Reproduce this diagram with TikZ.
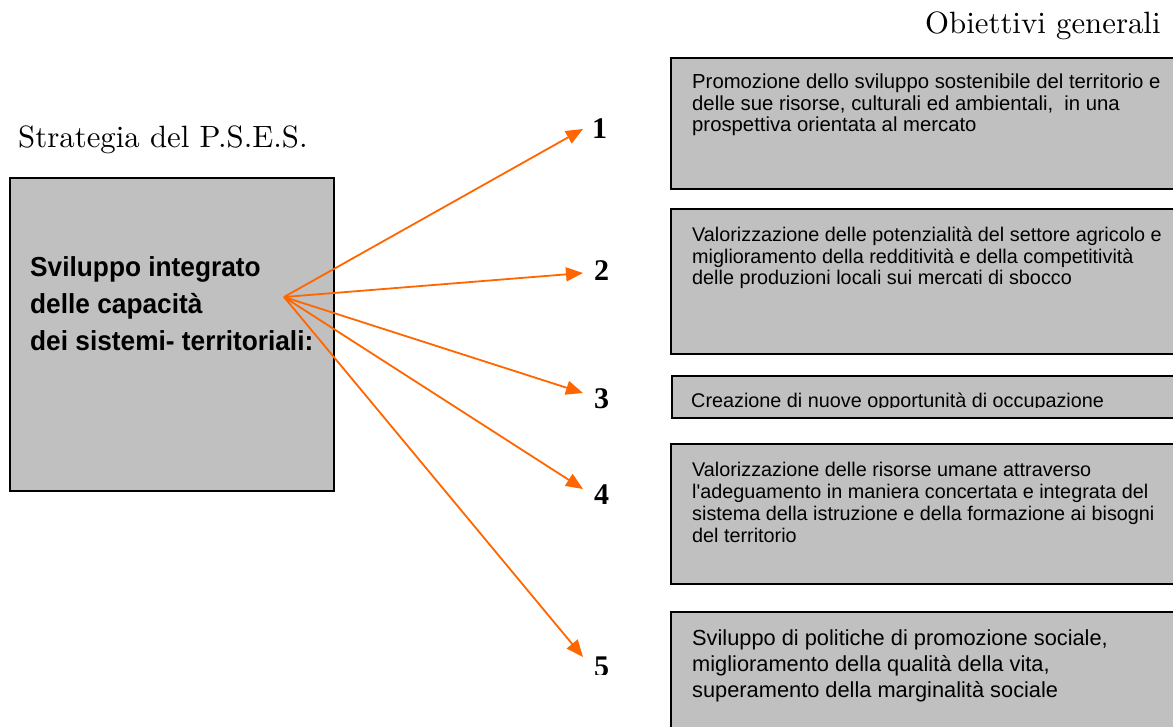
\documentclass[tikz,border=0pt]{standalone}
\usepackage{fontspec}
\newfontfamily\boxfont{Liberation Sans}
\newfontfamily\boxfontn[FakeStretch=0.955]{Liberation Sans}
\newfontfamily\numfont{Liberation Serif}
\newfontfamily\lmten{lmroman10-regular.otf}
\usetikzlibrary{arrows.meta}
\definecolor{boxgray}{RGB}{192,192,192}
\definecolor{arroworange}{RGB}{255,102,0}
\begin{document}
\begin{tikzpicture}[x=1pt,y=-1pt,
  box/.style={draw=black, line width=1.6pt, fill=boxgray, anchor=north west, inner sep=0pt},
  btxt/.style={anchor=base west, inner sep=0pt, font=\boxfont\fontsize{19.8}{22}\selectfont},
  btxtb/.style={anchor=base west, inner sep=0pt, font=\boxfont\fontsize{20.3}{22}\selectfont},
  bigtxt/.style={anchor=base west, inner sep=0pt, font=\boxfont\fontsize{21.8}{26}\selectfont},
  lefttxt/.style={anchor=base west, inner sep=0pt, font=\boxfontn\bfseries\fontsize{27.5}{30}\selectfont},
  head/.style={anchor=base west, inner sep=0pt, font=\lmten\fontsize{30.8}{34}\selectfont},
  num/.style={anchor=base west, inner sep=0pt, font=\numfont\bfseries\fontsize{30}{30}\selectfont},
  arr/.style={draw=arroworange, line width=1.8pt, -{Triangle[length=17pt,width=14pt]}}]
\useasboundingbox (0,0) rectangle (1173,727);
\clip (0,0) rectangle (1173,727);

% headings
\node[head] (strat) at (18,148) {Strategia del P.S.E.S.};
\node[head] (obiet) at (925,34) {Obiettivi generali};

% left box
\node[box, minimum width=324pt, minimum height=313pt] (main) at (9,177) {};
\node[lefttxt] (m1) at (30,277) {Sviluppo integrato};
\node[lefttxt] (m2) at (30,314) {delle capacità};
\node[lefttxt] (m3) at (30,351) {dei sistemi- territoriali:};

% objective boxes
\node[box, minimum width=540pt, minimum height=131pt] (obj1) at (670,57) {};
\node[box, minimum width=540pt, minimum height=145pt] (obj2) at (670,208) {};
\node[box, minimum width=540pt, minimum height=42pt] (obj3) at (671,375) {};
\node[box, minimum width=540pt, minimum height=140pt] (obj4) at (670,443) {};
\node[box, minimum width=540pt, minimum height=160pt] (obj5) at (670,611) {};

\node[btxtb] (o1a) at (692,89) {Promozione dello sviluppo sostenibile del territorio e};
\node[btxtb] (o1b) at (692,110.5) {delle sue risorse, culturali ed ambientali,\ \ in una};
\node[btxtb] (o1c) at (692,132) {prospettiva orientata al mercato};

\node[btxt] (o2a) at (692,242) {Valorizzazione delle potenzialità del settore agricolo e};
\node[btxt] (o2b) at (692,263.5) {miglioramento della redditività e della competitività};
\node[btxt] (o2c) at (692,285) {delle produzioni locali sui mercati di sbocco};

\begin{scope}
\clip (672,376) rectangle (1173,407.5);
\node[btxt] (o3a) at (691,407) {Creazione di nuove opportunità di occupazione};
\end{scope}

\node[btxt] (o4a) at (692,476) {Valorizzazione delle risorse umane attraverso};
\node[btxt] (o4b) at (692,498) {l'adeguamento in maniera concertata e integrata del};
\node[btxt] (o4c) at (692,520) {sistema della istruzione e della formazione ai bisogni};
\node[btxt] (o4d) at (692,542) {del territorio};

\node[bigtxt] (o5a) at (692,645) {Sviluppo di politiche di promozione sociale,};
\node[bigtxt] (o5b) at (692,671) {miglioramento della qualità della vita,};
\node[bigtxt] (o5c) at (692,697) {superamento della marginalità sociale};

% numbers
\node[num] (n1) at (592,139) {1};
\node[num] (n2) at (594,281) {2};
\node[num] (n3) at (594,408) {3};
\node[num] (n4) at (594,504) {4};
\begin{scope}
\clip (585,640) rectangle (625,674);
\node[num] (n5) at (594,676) {5};
\end{scope}

% arrows
\coordinate (hub) at (284,297);
\coordinate (t1) at (583,129);
\coordinate (t2) at (583,273);
\coordinate (t3) at (583,393);
\coordinate (t4) at (583,489);
\coordinate (t5) at (583,657);
\foreach \t in {t1,t2,t3,t4,t5} \draw[arr] (hub) -- (\t);
\end{tikzpicture}
\end{document}
